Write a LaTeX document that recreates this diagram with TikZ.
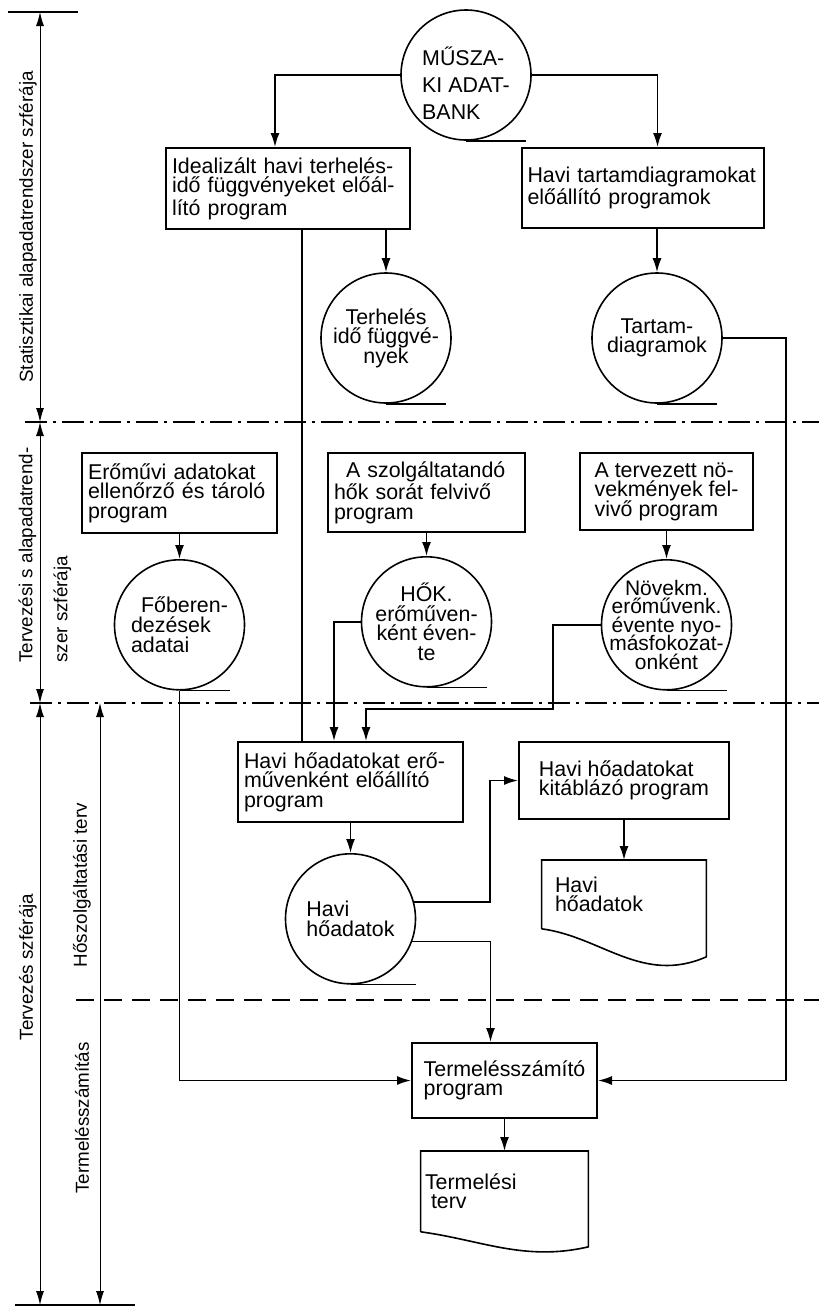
\documentclass[tikz,border=0pt]{standalone}
\usepackage{fontspec}
\setmainfont{Liberation Sans}
\usepackage{tikz}
\usetikzlibrary{arrows.meta,positioning,calc}
\lineskiplimit=-\maxdimen
\newcommand{\blkfont}{\fontsize{10.7}{9.8}\selectfont}
\newcommand{\sidefont}{\fontsize{9.4}{11}\selectfont}
% sheet of paper with a wavy lower edge
\newcommand{\docshape}[2]{%
  \draw[wire] (#1.south west) -- (#1.north west) -- (#1.north east)
    -- ([yshift=-#2]#1.south east)
    .. controls +(-32pt,-#2) and +(30pt,-4pt) .. (#1.south west);}
\tikzset{
  prog/.style   ={rectangle,draw,line width=1pt,align=left,
                  inner sep=3pt,font=\blkfont},
  store/.style  ={circle,draw,thick,minimum size=65pt,inner sep=-10pt,
                  align=center,font=\blkfont},
  doc/.style    ={rectangle,inner sep=2pt,align=left,font=\blkfont},
  wire/.style   ={thick},
  sig/.style    ={-{Latex[length=7pt,width=4.5pt]},thick},
  dimln/.style  ={{Latex[length=7pt,width=4pt]}-{Latex[length=7pt,width=4pt]},
                  line width=0.5pt},
  divline/.style={line width=0.7pt,dash pattern=on 11pt off 3pt on 1.5pt off 3pt},
  dashln/.style ={line width=0.7pt,dash pattern=on 9pt off 5pt},
  sidelbl/.style={rotate=90,align=left,font=\sidefont},
}

\begin{document}
\begin{tikzpicture}[x=0.5pt,y=-0.5pt]
  \useasboundingbox (0,0) rectangle (819,1313);

  \draw[wire]   (8,12) -- (78,12);
  \draw[wire]   (15,1305) -- (135,1305);
  \draw[dimln]  (40,12) -- (40,422);
  \draw[dimln]  (40,422) -- (40,703);
  \draw[dimln]  (40,703) -- (40,1305);
  \draw[dimln]  (100,703) -- (100,1305);
  \draw[divline](25,422) -- (819,422);
  \draw[divline](30,703) -- (819,703);
  \draw[dashln] (76,1000) -- (819,1000);

  \node[sidelbl] (lstat)   at (28,227)  {Statisztikai alapadatrendszer szférája};
  \node[sidelbl] (lalap)   at (45,555)  {Tervezési s alapadatrend-\\[6.5pt]szer szférája};
  \node[sidelbl] (lterv)   at (28,967)  {Tervezés szférája};
  \node[sidelbl] (lhoszol) at (82,885)  {Hőszolgáltatási terv};
  \node[sidelbl] (ltermsz) at (82,1118) {Termelésszámítás};

  \node[store,align=left,font=\fontsize{10.7}{13.5}\selectfont,text height=44pt]
                 (bank)     at (466,75)     {MŰSZA-\\KI ADAT-\\BANK};
  \node[prog,text width=116pt,minimum height=40.5pt]
                 (ideal)    at (288,188.5)  {Idealizált havi terhelés-\\idő függvényeket előál-\\lító program};
  \node[prog,text width=115pt,minimum height=40pt]
                 (tartprog) at (642.5,188)  {Havi tartamdiagramokat\\előállító programok};
  \node[store]   (terh)     at (386,338)    {Terhelés\\idő függvé-\\nyek};
  \node[store]   (tartam)   at (657,338)    {Tartam-\\diagramok};

  \node[prog,text width=91.5pt,minimum height=40pt]
                 (erprog)   at (179.5,493)  {Erőművi adatokat\\ellenőrző és tároló\\program};
  \node[prog,text width=92.5pt,minimum height=39.5pt]
                 (szolg)    at (426.5,492.5){\hspace*{6pt}A szolgáltatandó\\hők sorát felvivő\\program};
  \node[prog,minimum width=86.5pt,minimum height=38.5pt]
                 (tervb)    at (666.5,491.5){A tervezett nö-\\vekmények fel-\\vivő program};
  \node[store,align=left,below=12.5pt of erprog]
                 (fober)    {\hspace*{5pt}Főberen-\\dezések\\adatai};
  \node[store,below=11.5pt of szolg]
                 (hok)      {HŐK.\\erőműven-\\ként éven-\\te};
  \node[store,font=\fontsize{10.5}{9.3}\selectfont,below=14pt of tervb]
                 (novek)    {Növekm.\\erőművenk.\\évente nyo-\\másfokozat-\\onként};

  \node[prog,text width=106.5pt,minimum height=40pt]
                 (hoprog)   at (350.5,782)  {Havi hőadatokat erő-\\művenként előállító\\program};
  \node[prog,minimum width=105pt,minimum height=38.5pt]
                 (tabla)    at (624,780.5)  {Havi hőadatokat\\kitáblázó program};
  \node[store,align=left,below=15pt of hoprog]
                 (havid)    {Havi\\hőadatok};
  \node[doc,text width=69pt,inner xsep=6.5pt,minimum height=34pt,below=20pt of tabla]
                 (hodoc)    {Havi\\hőadatok};
  \node[prog,minimum width=92.5pt,minimum height=37.5pt]
                 (term)     at (504.5,1080.5){Termelésszámító\\program};
  \node[doc,text width=79.5pt,minimum height=40pt,below=16pt of term]
                 (tdoc)     {Termelési\\\hspace*{3pt}terv};
  \docshape{hodoc}{14pt}
  \docshape{tdoc}{7.5pt}

  \draw[wire](bank.south)   -- ++(60,0);
  \draw[wire](terh.south)   -- ++(60,0);
  \draw[wire](tartam.south) -- ++(60,0);
  \draw[wire](fober.south)  -- ++(50,0);
  \draw[wire](hok.south)    -- ++(60,0);
  \draw[wire](novek.south)  -- ++(60,0);
  \draw[wire](havid.south)  -- ++(65,0);

  \coordinate (drop) at ($(ideal.south west)+(137,0)$);
  \draw[sig](bank.west)  -| ($(ideal.north)+(-13,0)$);
  \draw[sig](bank.east)  -| ($(tartprog.north)+(15,0)$);
  \draw[sig](ideal.south -| terh.north) -- (terh.north);
  \draw[wire](drop) -- (drop |- hoprog.north);
  \draw[sig](tartprog.south -| tartam.north) -- (tartam.north);
  \draw[sig](tartam.east) -- ++(63,0) |- (term.east);
  \draw[sig](erprog.south) -- (fober.north);
  \draw[sig](fober.south)  |- (term.west);
  \draw[sig](szolg.south)  -- (hok.north);
  \draw[sig](hok.west)     -| ($(hoprog.north west)+(97,0)$);
  \draw[sig](tervb.south)  -- (novek.north);
  \draw[sig](novek.west)   -- ++(-48,0) |- ($(hoprog.north west)+(129,-32)$)
                           -- ($(hoprog.north west)+(129,0)$);
  \draw[sig](hoprog.south) -- (havid.north);
  \draw[sig](havid.15)     -| ($(tabla.west)+(-28,0)$) -- (tabla.west);
  \draw[sig](havid.-20)    -| ($(term.north)+(-14,0)$);
  \draw[sig](tabla.south)  -- (hodoc.north);
  \draw[sig](term.south)   -- (tdoc.north);
\end{tikzpicture}
\end{document}
